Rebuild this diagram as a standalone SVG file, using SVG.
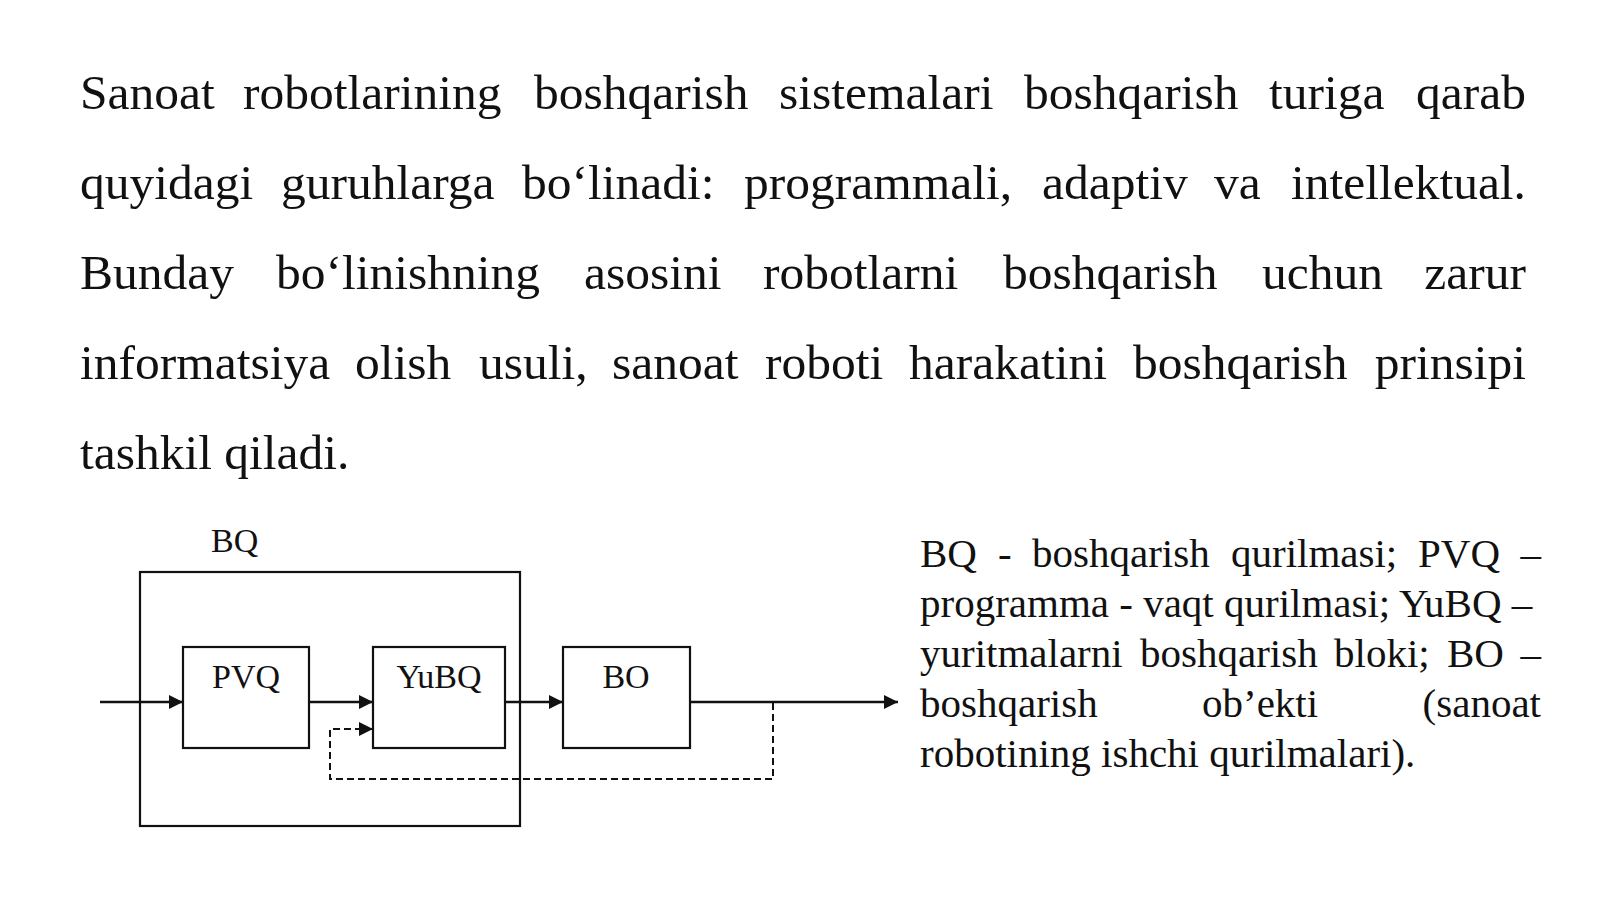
<svg xmlns="http://www.w3.org/2000/svg" width="1600" height="899" viewBox="0 0 1600 899">
<style>
.t{font-family:"Liberation Serif","Times New Roman",serif;fill:#111;}
.m{font-size:49.5px;}
.r{font-size:41px;}
.lb{font-size:34px;text-anchor:middle;}
.box{fill:none;stroke:#111;stroke-width:2.2;}
.ln{fill:none;stroke:#111;stroke-width:2.4;}
.ds{fill:none;stroke:#111;stroke-width:2;stroke-dasharray:7 4;}
</style>
<defs>
<marker id="ah" markerUnits="userSpaceOnUse" markerWidth="16" markerHeight="16" refX="14" refY="7" orient="auto">
<path d="M0,0 L14,7 L0,14 Z" fill="#111"/>
</marker>
</defs>
<rect width="1600" height="899" fill="#fff"/>
<g id="paragraph" class="t m">
<text y="109"><tspan x="80">Sanoat</tspan><tspan x="243">robotlarining</tspan><tspan x="534">boshqarish</tspan><tspan x="779">sistemalari</tspan><tspan x="1024">boshqarish</tspan><tspan x="1269">turiga</tspan></text>
<text y="109" x="1526" text-anchor="end">qarab</text>
<text y="199"><tspan x="80">quyidagi</tspan><tspan x="281">guruhlarga</tspan><tspan x="522">bo‘linadi:</tspan><tspan x="744">programmali,</tspan><tspan x="1042">adaptiv</tspan><tspan x="1214">va</tspan></text>
<text y="199" x="1526" text-anchor="end">intellektual.</text>
<text y="289"><tspan x="80">Bunday</tspan><tspan x="276">bo‘linishning</tspan><tspan x="584">asosini</tspan><tspan x="763">robotlarni</tspan><tspan x="1003">boshqarish</tspan><tspan x="1262">uchun</tspan></text>
<text y="289" x="1526" text-anchor="end">zarur</text>
<text y="379"><tspan x="80">informatsiya</tspan><tspan x="355">olish</tspan><tspan x="479">usuli,</tspan><tspan x="612">sanoat</tspan><tspan x="765">roboti</tspan><tspan x="909">harakatini</tspan><tspan x="1133">boshqarish</tspan></text>
<text y="379" x="1526" text-anchor="end">prinsipi</text>
<text y="469" x="80">tashkil qiladi.</text>
</g>
<g id="legend" class="t r">
<text y="567"><tspan x="920">BQ</tspan><tspan x="998">-</tspan><tspan x="1032">boshqarish</tspan><tspan x="1231">qurilmasi;</tspan><tspan x="1418">PVQ</tspan></text>
<text y="567" x="1541" text-anchor="end">–</text>
<text y="617" x="920">programma - vaqt qurilmasi; YuBQ –</text>
<text y="667"><tspan x="920">yuritmalarni</tspan><tspan x="1140">boshqarish</tspan><tspan x="1334">bloki;</tspan><tspan x="1447">BO</tspan></text>
<text y="667" x="1541" text-anchor="end">–</text>
<text y="717"><tspan x="920">boshqarish</tspan><tspan x="1202">ob’ekti</tspan></text>
<text y="717" x="1541" text-anchor="end">(sanoat</text>
<text y="767" x="920">robotining ishchi qurilmalari).</text>
</g>
<g id="BQ">
<rect class="box" x="140" y="572" width="380" height="254"/>
<text class="t" x="211" y="552" font-size="34">BQ</text>
</g>
<g id="PVQ">
<rect class="box" x="183" y="647" width="126" height="101"/>
<text class="t lb" x="246" y="688">PVQ</text>
</g>
<g id="YuBQ">
<rect class="box" x="373" y="647" width="132" height="101"/>
<text class="t lb" x="439" y="688">YuBQ</text>
</g>
<g id="BO">
<rect class="box" x="563" y="647" width="127" height="101"/>
<text class="t lb" x="626" y="688">BO</text>
</g>
<g id="connectors">
<path class="ln" d="M100,702 H183" marker-end="url(#ah)"/>
<path class="ln" d="M309,702 H373" marker-end="url(#ah)"/>
<path class="ln" d="M505,702 H563" marker-end="url(#ah)"/>
<path class="ln" d="M690,702 H898" marker-end="url(#ah)"/>
<path class="ds" d="M773,703 V779 H330 V729 H373" marker-end="url(#ah)"/>
</g>
</svg>
